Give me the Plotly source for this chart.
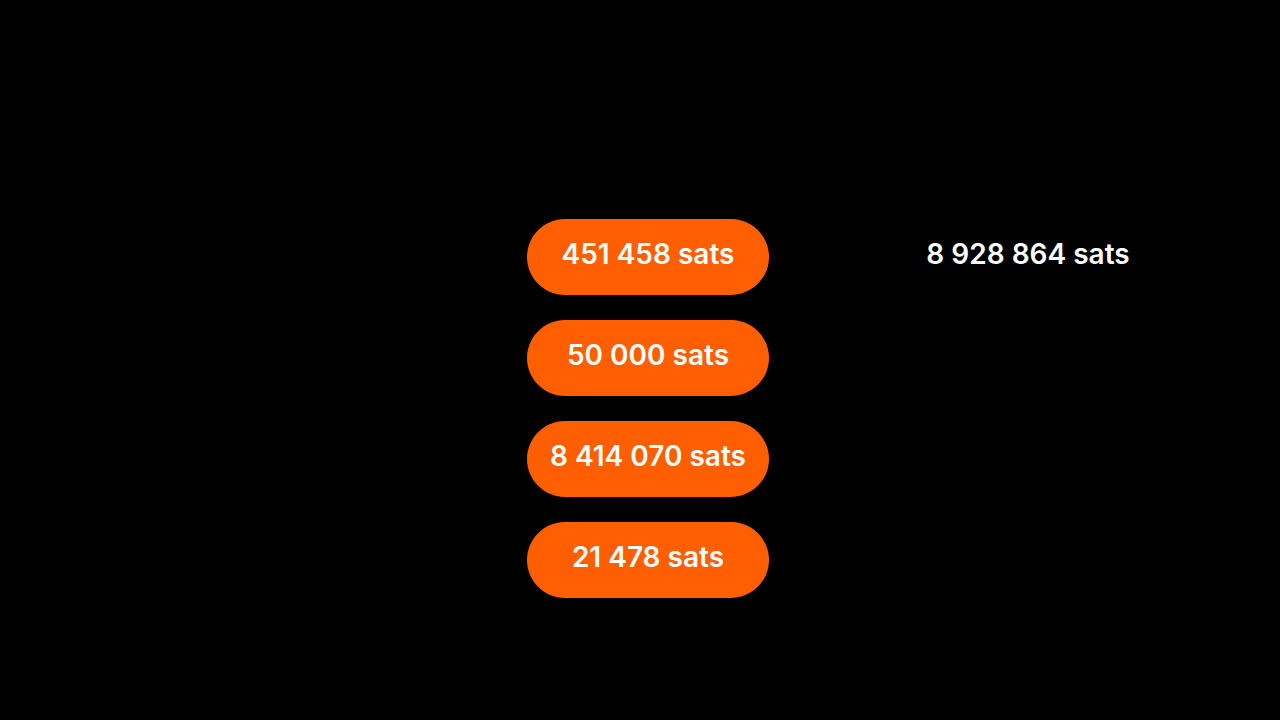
import plotly.graph_objects as go

# --- DATA ---
amounts = [451458, 50000, 8414070, 21478]
total = 8928864
unit = 'sats'

# --- STYLE ---
ORANGE = '#FF5F00'
PILL_X = 648
PILL_HALF_W = 121
PILL_R = 38
ROW_Y0 = 257
ROW_STEP = 101
TOTAL_X = 1028


def fmt(v):
    return f"{v:,}".replace(',', ' ') + ' ' + unit


def pill_path(cx, cy, hw, r):
    k = 0.5523 * r
    x0, x1 = cx - hw + r, cx + hw - r
    return (f"M{x0},{cy - r} L{x1},{cy - r} "
            f"C{x1 + k},{cy - r} {x1 + r},{cy - k} {x1 + r},{cy} "
            f"C{x1 + r},{cy + k} {x1 + k},{cy + r} {x1},{cy + r} "
            f"L{x0},{cy + r} "
            f"C{x0 - k},{cy + r} {x0 - r},{cy + k} {x0 - r},{cy} "
            f"C{x0 - r},{cy - k} {x0 - k},{cy - r} {x0},{cy - r} Z")


rows_y = [ROW_Y0 + i * ROW_STEP for i in range(len(amounts))]
font = dict(family='Inter', size=28, color='white', weight=600)

fig = go.Figure()
fig.add_trace(go.Scatter(
    x=[PILL_X] * len(amounts), y=rows_y, mode='text',
    text=[fmt(a) for a in amounts], textfont=font,
    hoverinfo='skip', showlegend=False
))
fig.add_trace(go.Scatter(
    x=[TOTAL_X], y=[rows_y[0]], mode='text', text=[fmt(total)],
    textfont=font, hoverinfo='skip', showlegend=False
))

for y in rows_y:
    fig.add_shape(type='path', path=pill_path(PILL_X, y, PILL_HALF_W, PILL_R),
                  fillcolor=ORANGE, line=dict(width=0), layer='below')

fig.update_layout(
    width=1280, height=720,
    paper_bgcolor='black', plot_bgcolor='black',
    margin=dict(l=0, r=0, t=0, b=0),
    xaxis=dict(range=[0, 1280], visible=False, fixedrange=True),
    yaxis=dict(range=[720, 0], visible=False, fixedrange=True),
)

fig.write_html("out.html", config=dict(displayModeBar=False),
               post_script="document.body.style.margin='0';document.body.style.background='black';")
